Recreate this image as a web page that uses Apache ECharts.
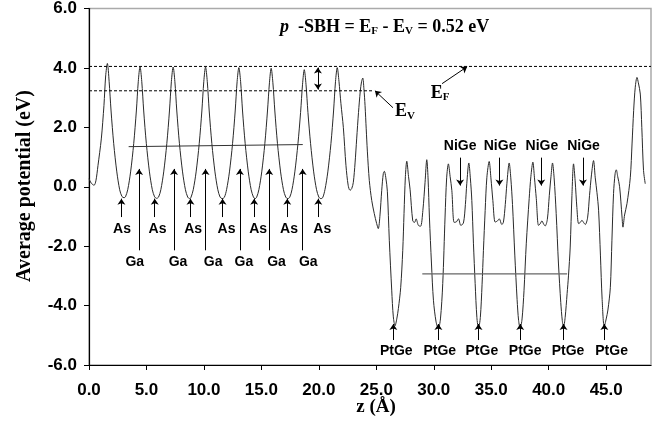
<!DOCTYPE html>
<html><head><meta charset="utf-8">
<script src="https://cdn.jsdelivr.net/npm/echarts@6/dist/echarts.min.js"></script>
<style>html,body{margin:0;padding:0;background:#fff}#c{width:665px;height:424px}</style>
</head><body><div id="c"></div>
<script>
// ---- data (z in Å, average potential in eV) ----
const potentialCurve = [
[0.0,0.27],[0.2,0.12],[0.44,0.05],[0.6,0.2],[0.78,0.71],[1.07,1.61],[1.3,2.73],[1.45,3.73],[1.6,4.15],
[1.75,3.55],[1.92,2.55],[2.15,1.45],[2.42,0.5],[2.67,-0.1],[2.87,-0.33],[3.05,-0.37],[3.17,-0.34],[3.37,-0.1],[3.62,0.5],[3.89,1.45],[4.12,2.55],[4.29,3.55],[4.44,4.04],
[4.59,3.55],[4.76,2.55],[4.99,1.45],[5.26,0.5],[5.51,-0.1],[5.71,-0.34],[5.88,-0.39],[6.05,-0.35],[6.25,-0.1],[6.5,0.5],[6.77,1.45],[7.0,2.55],[7.17,3.55],[7.32,4.03],
[7.47,3.55],[7.64,2.55],[7.87,1.45],[8.14,0.5],[8.39,-0.1],[8.59,-0.35],[8.75,-0.4],[8.87,-0.36],[9.07,-0.1],[9.32,0.5],[9.59,1.45],[9.82,2.55],[9.99,3.55],[10.14,4.03],
[10.29,3.55],[10.46,2.55],[10.69,1.45],[10.96,0.5],[11.21,-0.1],[11.41,-0.35],[11.59,-0.4],[11.77,-0.36],[11.97,-0.1],[12.22,0.5],[12.49,1.45],[12.72,2.55],[12.89,3.55],[13.04,4.01],
[13.19,3.55],[13.36,2.55],[13.59,1.45],[13.86,0.5],[14.11,-0.1],[14.31,-0.35],[14.45,-0.4],[14.58,-0.36],[14.78,-0.1],[15.03,0.5],[15.3,1.45],[15.53,2.55],[15.7,3.5],[15.85,3.99],
[16.0,3.5],[16.17,2.55],[16.4,1.45],[16.67,0.5],[16.92,-0.1],[17.12,-0.35],[17.29,-0.4],[17.46,-0.36],[17.66,-0.1],[17.91,0.5],[18.18,1.45],[18.41,2.5],[18.58,3.45],[18.73,3.94],
[18.88,3.45],[19.05,2.5],[19.28,1.45],[19.55,0.5],[19.8,-0.1],[20.0,-0.35],[20.17,-0.4],[20.33,-0.37],[20.53,-0.1],[20.78,0.5],[21.05,1.45],[21.28,2.55],[21.45,3.55],[21.6,4.01],
[21.75,3.55],[21.92,2.8],[22.13,2.0],[22.36,0.71],[22.55,0.05],[22.71,-0.12],[22.86,-0.06],[23.0,0.15],[23.15,0.8],[23.29,1.61],[23.45,2.5],[23.6,3.2],[23.72,3.55],[23.82,3.66],
[23.92,3.3],[24.02,2.73],[24.12,1.95],[24.22,1.2],[24.39,0.21],[24.6,-0.46],[24.82,-0.9],[25.03,-1.24],[25.17,-1.41],[25.32,-0.95],[25.47,-0.12],[25.61,0.45],[25.7,0.52],[25.82,0.32],
[25.96,-0.15],[26.13,-1.8],[26.34,-3.48],[26.48,-4.38],[26.63,-4.68],[26.78,-4.45],[26.92,-4.1],[27.12,-3.4],[27.3,-2.14],[27.41,-0.9],[27.53,0.35],[27.65,0.86],
[27.8,0.35],[27.94,-0.1],[28.17,-1.15],[28.33,-1.2],[28.46,-1.08],[28.66,-1.3],[28.85,-1.33],[29.05,-0.8],[29.24,0.15],[29.39,0.91],
[29.5,0.3],[29.62,-1.02],[29.8,-2.6],[29.97,-3.82],[30.2,-4.55],[30.4,-4.77],[30.58,-4.45],[30.78,-3.26],[30.98,-1.02],[31.12,0.3],[31.27,0.77],
[31.42,0.35],[31.57,-0.12],[31.77,-1.2],[31.97,-1.18],[32.15,-1.08],[32.35,-1.3],[32.58,-1.22],[32.75,-0.6],[32.87,0.1],[33.05,0.8],
[33.18,0.3],[33.31,-0.46],[33.45,-1.9],[33.6,-3.26],[33.75,-4.4],[33.89,-4.77],[34.05,-4.4],[34.2,-3.3],[34.32,-2.14],[34.47,-0.8],[34.62,0.32],[34.82,0.85],
[34.97,0.3],[35.14,-0.46],[35.34,-1.19],[35.54,-1.15],[35.7,-1.08],[35.92,-1.27],[36.06,-1.19],[36.22,-0.6],[36.36,0.1],[36.56,0.8],
[36.7,0.3],[36.85,-0.6],[37.05,-2.3],[37.25,-3.8],[37.38,-4.5],[37.52,-4.77],[37.68,-4.45],[37.85,-3.5],[38.05,-1.9],[38.3,-0.4],[38.45,0.35],[38.62,0.83],
[38.76,0.3],[38.92,-0.4],[39.11,-1.3],[39.25,-1.25],[39.41,-1.15],[39.55,-1.25],[39.69,-1.32],[39.88,-1.1],[40.05,-0.3],[40.2,0.35],[40.33,0.8],
[40.47,0.3],[40.65,-0.9],[40.85,-2.6],[41.05,-3.9],[41.18,-4.5],[41.29,-4.73],[41.43,-4.4],[41.6,-3.6],[41.72,-3.0],[41.87,-2.03],[42.02,-0.3],[42.16,0.77],
[42.3,0.2],[42.45,-0.7],[42.6,-1.24],[42.75,-1.2],[42.89,-1.13],[43.03,-1.2],[43.18,-1.27],[43.38,-1.05],[43.55,-0.3],[43.72,0.4],[43.9,0.88],
[44.05,0.3],[44.2,-0.2],[44.34,-0.79],[44.5,-2.3],[44.65,-3.8],[44.83,-4.71],[45.0,-4.45],[45.15,-4.15],[45.36,-3.4],[45.5,-1.8],[45.64,-0.23],[45.78,0.45],[45.88,0.57],
[46.0,0.35],[46.17,0.0],[46.38,-1.02],[46.46,-1.36],[46.6,-0.95],[46.81,-0.57],[47.1,0.32],[47.25,1.44],[47.39,2.56],[47.53,3.35],[47.68,3.68],[47.8,3.5],[47.97,3.12],[48.1,2.0],[48.25,0.55],[48.4,0.1]
];
const xTickVals = [0, 5, 10, 15, 20, 25, 30, 35, 40, 45];
const yTickVals = [-6, -4, -2, 0, 2, 4, 6];
const EF = 4.05, EV = 3.23;
const efLine = [[0, EF], [48.9, EF]];
const evLine = [[0, EV], [24.71, EV]];
const gaasAvgLine = [[3.45, 1.35], [18.6, 1.42]];
const ptgeAvgLine = [[29.0, -2.93], [41.6, -2.93]];
const asArrowZ = [2.82, 5.72, 8.83, 11.62, 14.37, 17.25, 19.95];
const asLabelZ = [2.87, 5.96, 9.06, 11.97, 14.72, 17.4, 20.3];
const gaArrowZ = [4.36, 7.4, 10.14, 13.13, 15.68, 18.59];
const gaLabelZ = [3.98, 7.75, 10.8, 13.48, 16.32, 19.08];
const ptgeArrowZ = [26.48, 30.4, 33.89, 37.52, 41.29, 44.84];
const ptgeLabelZ = [26.74, 30.52, 34.18, 37.95, 41.68, 45.47];
const nigeArrowZ = [32.29, 35.71, 39.35, 42.98];
const nigeLabelZ = [32.29, 35.77, 39.41, 43.03];

// ---- chart ----
const SANS = 'Liberation Sans';
const SERIF = 'Liberation Serif';
const chart = echarts.init(document.getElementById('c'), null, {renderer: 'canvas'});

function vArrows(zs, y0, y1) {
  return zs.map(z => [{coord: [z, y0]}, {coord: [z, y1]}]);
}
function labelSeries(zs, y, text) {
  return {
    type: 'scatter', symbolSize: 0, itemStyle: {opacity: 0}, silent: true, z: 5,
    data: zs.map(z => [z, y, text]),
    label: {show: true, position: 'inside', formatter: p => p.data[2], opacity: 1,
      fontFamily: SANS, fontWeight: 'bold', fontSize: 14, color: '#000', textBorderWidth: 0}
  };
}
const arrowData = []
  .concat(vArrows(asArrowZ, -1.02, -0.4))
  .concat(vArrows(gaArrowZ, -2.14, 0.6))
  .concat(vArrows(ptgeArrowZ, -5.16, -4.62))
  .concat(vArrows(nigeArrowZ, 0.98, 0.04))
  .concat([[{coord: [26.45, 2.66]}, {coord: [24.88, 3.23]}],
           [{coord: [30.72, 3.47]}, {coord: [32.9, 4.04]}],
           [{coord: [19.92, 3.27], symbol: 'arrow'}, {coord: [19.92, 4.01], symbol: 'arrow'}]]);

const subRich = {
  e: {fontFamily: SERIF, fontWeight: 'bold', fontSize: 18, color: '#000', verticalAlign: 'top', lineHeight: 19},
  s: {fontFamily: SERIF, fontWeight: 'bold', fontSize: 11, color: '#000', verticalAlign: 'bottom', lineHeight: 11, padding: [10, 0, 0, 0]}
};

chart.setOption({
  animation: false,
  backgroundColor: '#fff',
  title: {
    text: '{i|p}{e|  -SBH = E}{s|F}{e| - E}{s|V}{e| = 0.52 eV}',
    left: 280, top: 18, padding: 0,
    textStyle: {fontFamily: SERIF, fontWeight: 'bold', fontSize: 18, color: '#000',
      rich: Object.assign({
        i: {fontFamily: SERIF, fontStyle: 'italic', fontWeight: 'bold', fontSize: 18, color: '#000', verticalAlign: 'top', lineHeight: 19}
      }, subRich)}
  },
  grid: {left: 89, right: 14, top: 8, bottom: 59, show: true, borderColor: '#aaa', borderWidth: 1.5},
  xAxis: {
    type: 'value', min: 0, max: 48.9, interval: 5,
    axisLine: {show: true, onZero: false, lineStyle: {color: '#000', width: 1.2}},
    axisTick: {show: true, length: 5, customValues: xTickVals, lineStyle: {color: '#000'}},
    axisLabel: {customValues: xTickVals, formatter: v => v.toFixed(1), margin: 17,
      fontFamily: SANS, fontWeight: 'bold', fontSize: 17, color: '#000'},
    splitLine: {show: false}
  },
  yAxis: {
    type: 'value', min: -6, max: 6, interval: 2,
    axisLine: {show: true, onZero: false, lineStyle: {color: '#000', width: 1.2}},
    axisTick: {show: true, length: 5, customValues: yTickVals, lineStyle: {color: '#000'}},
    axisLabel: {customValues: yTickVals, formatter: v => v.toFixed(1), margin: 12,
      fontFamily: SANS, fontWeight: 'bold', fontSize: 17, color: '#000'},
    splitLine: {show: false}
  },
  graphic: [
    {type: 'text', x: 25, y: 186, rotation: Math.PI / 2,
     style: {text: 'Average potential (eV)', font: 'bold 20px "Liberation Serif"', fill: '#000',
       textAlign: 'center', textVerticalAlign: 'middle', align: 'center', verticalAlign: 'middle'}},
    {type: 'text', x: 376, y: 407,
     style: {text: 'z (Å)', font: 'bold 19px "Liberation Serif"', fill: '#000',
       textAlign: 'center', textVerticalAlign: 'middle', align: 'center', verticalAlign: 'middle'}}
  ],
  series: [
    {type: 'line', data: potentialCurve, showSymbol: false, smooth: 0.3, silent: true, z: 3,
     lineStyle: {color: '#2a2a2a', width: 1},
     markLine: {silent: true, symbol: ['none', 'arrow'], symbolSize: 6, animation: false,
       label: {show: false}, lineStyle: {color: '#000', type: 'solid', width: 1},
       data: arrowData}},
    {type: 'line', data: efLine, showSymbol: false, silent: true, lineStyle: {color: '#000', width: 1, type: [3, 2]}},
    {type: 'line', data: evLine, showSymbol: false, silent: true, lineStyle: {color: '#000', width: 1, type: [3, 2]}},
    {type: 'line', data: gaasAvgLine, showSymbol: false, silent: true, lineStyle: {color: '#333', width: 1}},
    {type: 'line', data: ptgeAvgLine, showSymbol: false, silent: true, lineStyle: {color: '#666', width: 1.2}},
    labelSeries(asLabelZ, -1.44, 'As'),
    labelSeries(gaLabelZ, -2.53, 'Ga'),
    labelSeries(ptgeLabelZ, -5.55, 'PtGe'),
    labelSeries(nigeLabelZ, 1.38, 'NiGe'),
    {type: 'scatter', symbolSize: 0, itemStyle: {opacity: 0}, silent: true, z: 5,
     data: [[30.55, 3.14, 'F'], [27.5, 2.52, 'V']],
     label: {show: true, position: 'inside', opacity: 1, formatter: p => '{e|E}{s|' + p.data[2] + '}', rich: subRich}}
  ]
});
</script>
</body></html>
